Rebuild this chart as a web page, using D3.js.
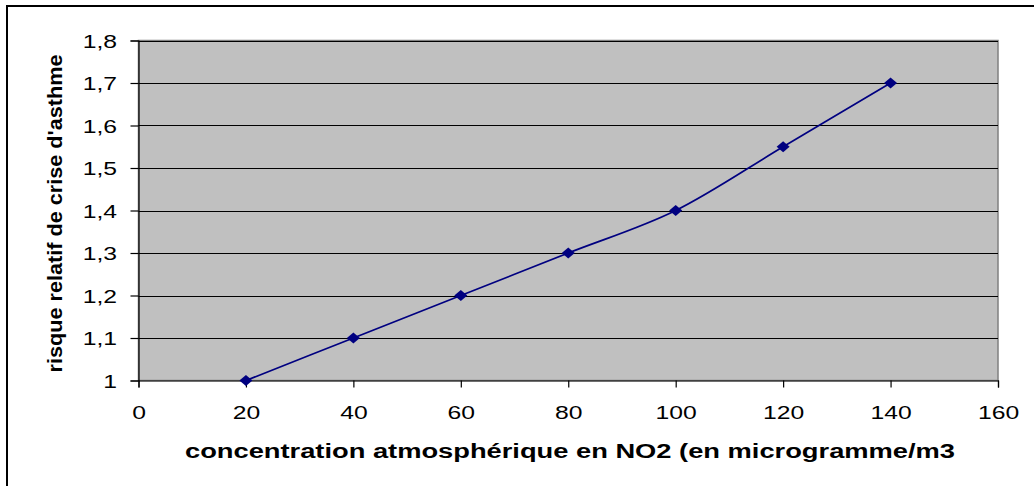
<!DOCTYPE html>
<html><head><meta charset="utf-8">
<script src="https://cdn.jsdelivr.net/npm/d3@7"></script>
<style>html,body{margin:0;padding:0;background:#fff;}svg{display:block;}</style>
</head><body>
<svg id="chart" width="1034" height="486"></svg>
<script>
const xValues = [20, 40, 60, 80, 100, 120, 140];
const yValues = [1.0, 1.1, 1.2, 1.3, 1.4, 1.55, 1.7];
const xTicks = [0, 20, 40, 60, 80, 100, 120, 140, 160];
const yTicks = [1, 1.1, 1.2, 1.3, 1.4, 1.5, 1.6, 1.7, 1.8];
const xTitle = "concentration atmosphérique en NO2 (en microgramme/m3";
const yTitle = "risque relatif de crise d'asthme";

const svg = d3.select("#chart");
const L = 138.5, R = 998, T = 40.5, B = 380.5;
const x = d3.scaleLinear().domain([0, 160]).range([L, R]);
const y = d3.scaleLinear().domain([1, 1.8]).range([B, T]);
const fmt = d => d3.format(".1f")(d).replace(".", ",").replace(/,0$/, "");
const FONT = "Arial, 'Liberation Sans', sans-serif";

// outer border
svg.append("rect").attr("x", 7).attr("y", 6).attr("width", 1040).attr("height", 500)
  .attr("fill", "none").attr("stroke", "#000").attr("stroke-width", 2);

// plot background
svg.append("rect").attr("x", L).attr("y", T).attr("width", R - L).attr("height", B - T)
  .attr("fill", "#c0c0c0").attr("stroke", "#808080").attr("stroke-width", 1.5);

// gridlines
svg.append("g").selectAll("line").data(yTicks.slice(1)).join("line")
  .attr("x1", L).attr("x2", R).attr("y1", d => Math.round(y(d)) + 0.5).attr("y2", d => Math.round(y(d)) + 0.5)
  .attr("stroke", "#000").attr("stroke-width", 1);

// axes
const yAxis = svg.append("g").attr("transform", `translate(${L},0)`)
  .call(d3.axisLeft(y).tickValues(yTicks).tickFormat(fmt).tickSize(8).tickPadding(13.5));
const xAxis = svg.append("g").attr("transform", `translate(0,${B})`)
  .call(d3.axisBottom(x).tickValues(xTicks).tickFormat(d3.format("d")).tickSize(7).tickPadding(18));
[yAxis, xAxis].forEach(a => {
  a.attr("font-family", null).attr("font-size", null);
  a.select(".domain").attr("stroke", "#000").attr("stroke-width", 1.2);
  a.selectAll(".tick line").attr("stroke", "#000").attr("stroke-width", 1.2);
  a.selectAll(".tick text").attr("fill", "#000").style("font-family", FONT).style("font-size", "19px")
    .each(function () {
      const w = this.getComputedTextLength();
      d3.select(this).attr("textLength", w * 1.3).attr("lengthAdjust", "spacingAndGlyphs");
    });
});
yAxis.selectAll(".tick text").attr("dy", "0.36em");

// line
const pts = xValues.map((d, i) => [d, yValues[i]]);
const line = d3.line().x(d => x(d[0])).y(d => y(d[1])).curve(d3.curveCardinal.tension(0));
svg.append("path").datum(pts).attr("d", line).attr("fill", "none")
  .attr("stroke", "#000080").attr("stroke-width", 1.7);

// markers
svg.append("g").selectAll("path").data(pts).join("path")
  .attr("transform", d => `translate(${x(d[0])},${y(d[1])})`)
  .attr("d", "M0,-5.5L6.5,0L0,5.5L-6.5,0Z").attr("fill", "#000080");

// titles
svg.append("text").attr("x", (185 + 955) / 2).attr("y", 458).attr("text-anchor", "middle")
  .attr("textLength", 770).attr("lengthAdjust", "spacingAndGlyphs")
  .style("font-family", FONT).style("font-weight", "bold").style("font-size", "20px")
  .text(xTitle);
svg.append("text").attr("transform", `translate(62,${(T + B) / 2 + 3}) rotate(-90)`).attr("text-anchor", "middle")
  .attr("textLength", 318).attr("lengthAdjust", "spacingAndGlyphs")
  .style("font-family", FONT).style("font-weight", "bold").style("font-size", "21px")
  .text(yTitle);
</script>
</body></html>
